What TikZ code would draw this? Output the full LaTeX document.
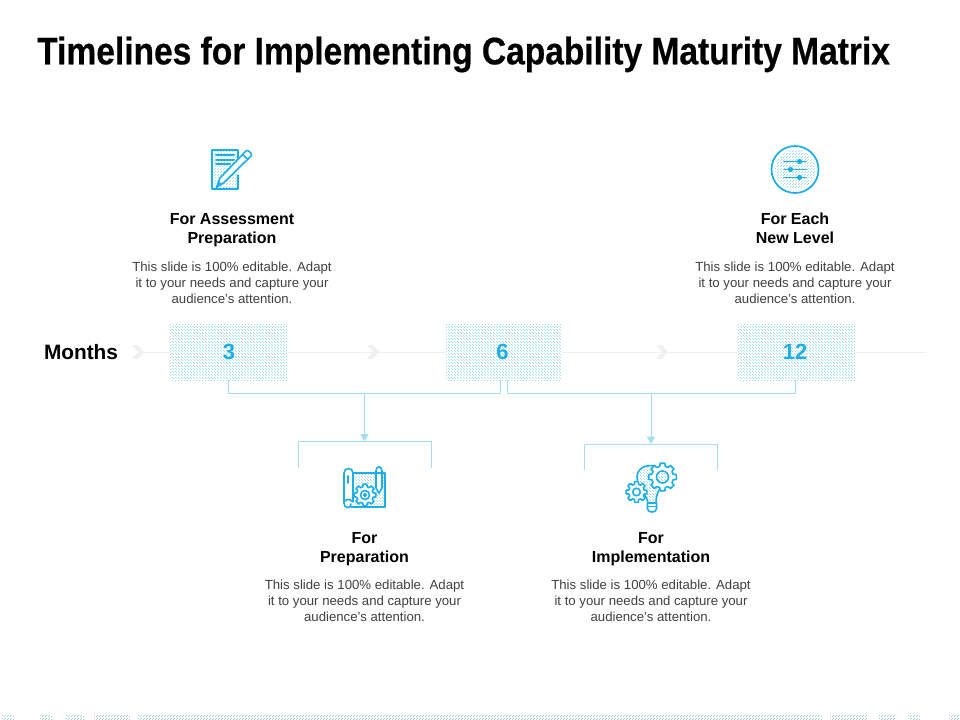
\documentclass[tikz,border=0pt]{standalone}
\usepackage{fontspec}
\setmainfont{Liberation Sans}
\newfontfamily\titlefont[BoldFeatures={FakeBold=0.5}]{Liberation Sans}
\usetikzlibrary{arrows.meta}
\definecolor{cyanic}{HTML}{1CAEE6}
\definecolor{linec}{HTML}{A6DDF0}
\definecolor{dotc}{HTML}{A2DEEC}
\definecolor{stripc}{HTML}{A8CBD9}
\definecolor{greyc}{HTML}{F0F0F0}
\tikzset{
  x=0.75pt,y=-0.75pt,
  monthbox/.style={draw=none,minimum width=87pt,minimum height=42pt,inner sep=0pt,anchor=center},
  monthnum/.style={text=cyanic,font=\fontsize{16.5pt}{18pt}\selectfont\bfseries},
  head/.style={align=center,font=\fontsize{12pt}{14.25pt}\selectfont\bfseries,text=black,inner sep=0pt},
  body/.style={align=center,font=\fontsize{9.9pt}{12pt}\selectfont,text=black!75,inner sep=0pt},
  conn/.style={draw=linec,line width=0.75pt},
  timeline/.style={draw=greyc,line width=0.6pt},
  chev/.style={fill=greyc,draw=none},
  ic/.style={draw=cyanic,line width=1.2pt,line join=round,line cap=round},
  ict/.style={draw=cyanic,line width=1.5pt,line cap=round}
}
\newcommand{\chevron}[2]{\fill[chev] (#1-5,#2-7) -- (#1+1,#2-7) -- (#1+7,#2) -- (#1+1,#2+7) -- (#1-5,#2+7) -- (#1+1,#2) -- cycle;}
% dots: x1 y1 x2 y2 colour
\newcommand{\dotsbox}[5]{%
  \pgfmathtruncatemacro{\nrows}{(#4-#2)/1.5}
  \foreach \r in {0,...,\nrows}{
    \pgfmathsetmacro{\ry}{#2+\r*1.5+0.5}
    \pgfmathsetmacro{\ph}{mod(\r,2)*1.125}
    \draw[#5,line width=0.75pt,dash pattern=on 0.75pt off 1.5pt,dash phase=\ph pt] (#1,\ry) -- (#3,\ry);
  }}
\newcommand{\gearshape}[6]{% cx cy R r n style
  \pgfmathsetmacro{\st}{360/#5}
  \pgfmathsetmacro{\w}{\st/4.6}
  \draw[#6] ([shift={(#1,#2)}]-\w:#3)
    \foreach \k in {1,...,#5}{
      \pgfextra{\pgfmathsetmacro{\ang}{(\k-1)*\st}}
      -- ([shift={(#1,#2)}]\ang+\w:#3)
      -- ([shift={(#1,#2)}]\ang+1.5*\w:#4)
      -- ([shift={(#1,#2)}]\ang+\st-1.5*\w:#4)
      -- ([shift={(#1,#2)}]\ang+\st-\w:#3)
    } -- cycle;}
\begin{document}
\begin{tikzpicture}
\useasboundingbox (0,0) rectangle (960,720);
% title
\node[anchor=base west,inner sep=0pt] (title) at (37,64.3) {\resizebox{639.5pt}{20.8pt}{\fontsize{27pt}{32pt}\titlefont\bfseries Timelines for Implementing Capability Maturity Matrix}};
% timeline
\node[font=\fontsize{15.6pt}{18pt}\selectfont\bfseries,inner sep=0pt] (months) at (81,352) {Months};
\coordinate (tlstart) at (138,352);
\coordinate (tlend) at (926,352);
\draw[timeline] (tlstart) -- (tlend);
\chevron{137}{352}
\chevron{372}{352}
\chevron{661}{352}
\node[monthbox,fill=white] (b3) at (228.5,352) {};
\node[monthbox,fill=white] (b6) at (503.5,352) {};
\node[monthbox,fill=white] (b12) at (796,352) {};
\dotsbox{170}{324}{287}{380}{dotc}
\dotsbox{446}{324}{561}{380}{dotc}
\dotsbox{738}{324}{854}{380}{dotc}
\node[monthnum] at (229,352) (n3) {3};
\node[monthnum] at (502.5,352) (n6) {6};
\node[monthnum] at (795,352) (n12) {12};
% connectors
\coordinate (c3) at (228.5,380);
\coordinate (c6l) at (500.5,380);
\coordinate (c6r) at (507.5,380);
\coordinate (c12) at (795,380);
\draw[conn] (c3) -- (228.5,393.5) -- (500.5,393.5) -- (c6l);
\draw[conn] (c6r) -- (507.5,393.5) -- (795,393.5) -- (c12);
% brackets
\coordinate (brA) at (364.5,441.5);
\coordinate (brB) at (651,444);
\draw[conn] (298,468) -- (298,441.5) -- (431.5,441.5) -- (431.5,468);
\draw[conn] (584.5,470) -- (584.5,444) -- (717.5,444) -- (717.5,470);
\draw[conn,-{Triangle[width=6pt,length=5.5pt]}] (364.5,393.5) -- (brA);
\draw[conn,-{Triangle[width=6pt,length=5.5pt]}] (651,393.5) -- (brB);
% texts
\node[head] (h1) at (232,230) {\strut For Assessment\\\strut Preparation};
\node[body] (t1) at (232,283) {This slide is 100\% editable. Adapt\\it to your needs and capture your\\audience's attention.};
\node[head] (h2) at (795,230) {\strut For Each\\\strut New Level};
\node[body] (t2) at (795,283) {This slide is 100\% editable. Adapt\\it to your needs and capture your\\audience's attention.};
\node[head] (h3) at (364.5,549) {\strut For\\\strut Preparation};
\node[body] (t3) at (364.5,601) {This slide is 100\% editable. Adapt\\it to your needs and capture your\\audience's attention.};
\node[head] (h4) at (651,549) {\strut For\\\strut Implementation};
\node[body] (t4) at (651,601) {This slide is 100\% editable. Adapt\\it to your needs and capture your\\audience's attention.};
% icon 1: note and pencil
\dotsbox{212}{150}{238}{189}{dotc}
\draw[ic] (238,161) -- (238,150) -- (212,150) -- (212,189) -- (238,189) -- (238,175);
\draw[ict] (216,155.5) -- (234,155.5) (216,160) -- (234,160) (216,164.5) -- (230,164.5);
\draw[ic,fill=white] (246.5,150.5) .. controls (248,150) and (252,153) .. (251.5,155.5) -- (224,182.5) -- (216.5,187.5) -- (220,178) -- cycle;
\draw[ic] (242.5,154.5) -- (248,159.5);
\fill[cyanic] (216.5,187.5) -- (219,181.5) -- (222,184.5) -- cycle;
% icon 2: sliders
\begin{scope}
\clip (795,169.5) circle[radius=20];
\dotsbox{775}{150}{815}{190}{dotc}
\end{scope}
\draw[ic,line width=1.3pt] (795,169.5) circle[radius=23.5];
\draw[ict,line width=1.2pt] (784,161.5) -- (806,161.5) (784,169.5) -- (806,169.5) (784,177.5) -- (806,177.5);
\fill[cyanic] (799.5,161.5) circle[radius=2.6] (790.5,169.5) circle[radius=2.6] (799.5,177.5) circle[radius=2.6];
% icon 3: blueprint
\dotsbox{353}{474}{385}{507}{dotc}
\draw[ic] (352,473) -- (385,473) -- (385,507) -- (351,507);
\draw[ic,fill=white] (344,503) -- (344,473) .. controls (344,467) and (353,467) .. (353,473) -- (353,502) .. controls (350,498) and (344,499) .. (344,503) .. controls (344,509) and (351,509) .. (351,504);
\draw[ict] (348,476) -- (348,483);
\gearshape{365}{495}{11}{8.5}{8}{ic,fill=white}
\draw[ic,fill=white] (365,495) circle[radius=4.5];
\fill[cyanic] (365,495) circle[radius=2];
\draw[ic,fill=white] (376,471) .. controls (376,465.5) and (382,465.5) .. (382,471) -- (382,488) -- (379,493) -- (376,488) -- cycle;
\draw[ic] (376,473) -- (382,473);
% icon 4: bulb and gears
\begin{scope}
\clip (648,503) .. controls (647,495) and (637,488) .. (637,477) .. controls (637,469) and (645,464) .. (655,466) -- (668,477) -- (660,489) .. controls (657,493) and (656,498) .. (656,503) -- cycle;
\dotsbox{635}{464}{670}{503}{dotc}
\end{scope}
\draw[ic] (648,503) .. controls (647,495) and (637,488) .. (637,477) .. controls (637,469) and (645,464) .. (655,466);
\draw[ic] (660,489) .. controls (657,493) and (656,498) .. (656,503);
\gearshape{636.5}{492}{10.5}{8}{8}{ic,fill=white}
\draw[ic] (636.5,492) circle[radius=3.8];
\gearshape{662.5}{477}{14}{11}{8}{ic,fill=white}
\begin{scope}
\clip (662.5,477) circle[radius=6];
\dotsbox{656}{471}{669}{483}{dotc}
\end{scope}
\draw[ic] (662.5,477) circle[radius=6];
\draw[ic,fill=white] (647.5,503) -- (656.5,503) -- (656.5,509) .. controls (656,513) and (648,513) .. (647.5,509) -- cycle;
\draw[ic] (647.5,506.5) -- (656.5,506.5);
% bottom strip
\foreach \a/\b in {2/13,40/52,66/83,94/130,138/821,830/867,879/895,908/919,949/960}{
  \dotsbox{\a}{714.5}{\b}{719.5}{stripc}
}
\end{tikzpicture}
\end{document}
